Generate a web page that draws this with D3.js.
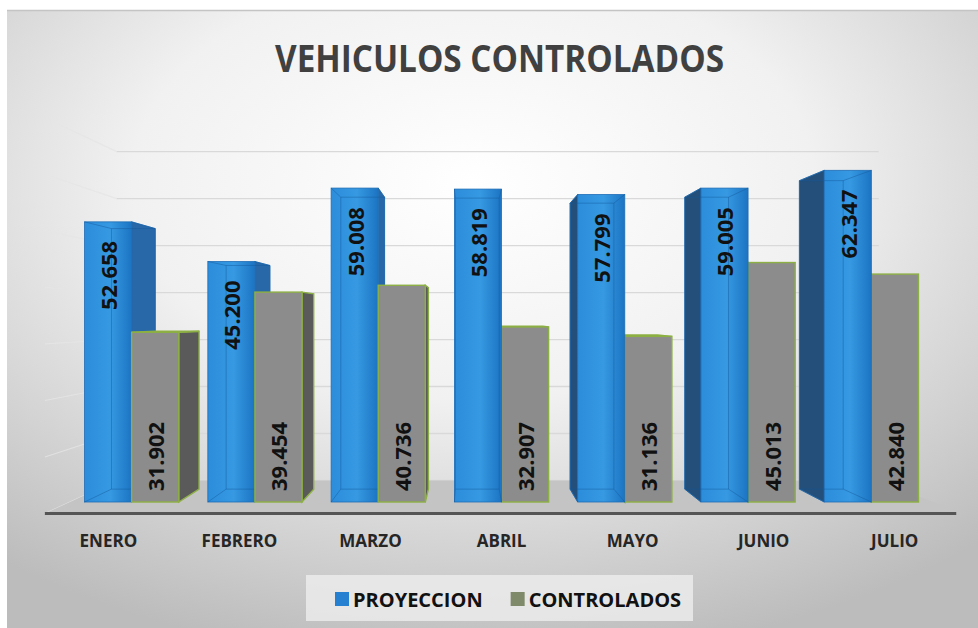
<!DOCTYPE html>
<html>
<head>
<meta charset="utf-8">
<script src="https://cdn.jsdelivr.net/npm/d3@7"></script>
<style>
  html, body { margin: 0; padding: 0; background: #fff; }
  svg { display: block; font-family: "Open Sans", "Noto Sans", sans-serif; }
</style>
</head>
<body>
<svg id="chart" width="978" height="628"></svg>
<script>
// data
const categories = ["ENERO", "FEBRERO", "MARZO", "ABRIL", "MAYO", "JUNIO", "JULIO"];
const seriesNames = ["PROYECCION", "CONTROLADOS"];
const proyeccion = [52658, 45200, 59008, 58819, 57799, 59005, 62347];
const controlados = [31902, 39454, 40736, 32907, 31136, 45013, 42840];
const yTicks = [0, 10000, 20000, 30000, 40000, 50000, 60000, 70000];
const chartTitle = "VEHICULOS CONTROLADOS";

const W = 978, H = 628;
// vanishing point and depth ratios (relative to the bar front plane)
const VX = 469, VY = 318;
const R_BAR_BACK = 0.93, R_WALL = 0.883, R_FLOOR_FRONT = 1.063;

function P(x, y, r) {
  return [VX + (x - VX) * r, VY + (y - VY) * r];
}

const locale = d3.formatLocale({ decimal: ",", thousands: ".", grouping: [3], currency: ["$", ""] });
const fmt = locale.format(",d");

const svg = d3.select("#chart");
const defs = svg.append("defs");

const bg = defs.append("radialGradient").attr("id", "bg")
  .attr("cx", "48%").attr("cy", "28%").attr("r", "78%");
bg.append("stop").attr("offset", "0%").attr("stop-color", "#ffffff");
bg.append("stop").attr("offset", "45%").attr("stop-color", "#f1f1f1");
bg.append("stop").attr("offset", "100%").attr("stop-color", "#bcbcbc");

const blueFront = defs.append("linearGradient").attr("id", "blueFront")
  .attr("x1", "0%").attr("x2", "100%").attr("y1", "0%").attr("y2", "0%");
blueFront.append("stop").attr("offset", "0%").attr("stop-color", "#2c8ddb");
blueFront.append("stop").attr("offset", "55%").attr("stop-color", "#3699e2");
blueFront.append("stop").attr("offset", "100%").attr("stop-color", "#1c74c2");

// background
svg.append("rect").attr("x", 7).attr("y", 10).attr("width", W - 7).attr("height", H - 10)
  .attr("fill", "url(#bg)");
svg.append("line").attr("x1", 7).attr("x2", W).attr("y1", 10.5).attr("y2", 10.5)
  .attr("stroke", "#c4c4c4").attr("stroke-width", 1.5);

// scales in the bar front plane
const x0 = d3.scaleBand().domain(categories).range([70, 933])
  .paddingInner(0.236).paddingOuter(0.118);
const x1 = d3.scaleBand().domain(seriesNames).range([0, x0.bandwidth()]);
const y = d3.scaleLinear().domain([0, 70000]).range([502, 129.6]);

const left = x0.range()[0], right = x0.range()[1];

// left wall gridlines
svg.append("g").selectAll("line").data(yTicks).join("line")
  .each(function (t) {
    const a = P(left, y(t), R_WALL), b = P(left, y(t), R_FLOOR_FRONT);
    d3.select(this).attr("x1", a[0]).attr("y1", a[1]).attr("x2", b[0]).attr("y2", b[1]);
  })
  .attr("stroke", "#e6e6e6").attr("stroke-width", 1.2).attr("opacity", 0.8);

// back wall gridlines
svg.append("g").selectAll("line").data(yTicks).join("line")
  .each(function (t) {
    const a = P(left, y(t), R_WALL), b = P(right, y(t), R_WALL);
    d3.select(this).attr("x1", a[0]).attr("y1", a[1]).attr("x2", b[0]).attr("y2", b[1]);
  })
  .attr("stroke", "#d9d9d9").attr("stroke-width", 1.3);

// floor
const floorPts = [
  P(left, y(0), R_WALL), P(right, y(0), R_WALL),
  P(right, y(0), R_FLOOR_FRONT), P(left, y(0), R_FLOOR_FRONT)
];
svg.append("polygon").attr("points", floorPts.map(p => p.join(",")).join(" "))
  .attr("fill", "#c4c4c4");
svg.append("line")
  .attr("x1", floorPts[3][0]).attr("x2", floorPts[2][0] - 6)
  .attr("y1", floorPts[3][1]).attr("y2", floorPts[2][1])
  .attr("stroke", "#555").attr("stroke-width", 3);

// bars
const bars = [];
categories.forEach((c, i) => {
  [proyeccion[i], controlados[i]].forEach((v, s) => {
    const xl = x0(c) + x1(seriesNames[s]);
    const xr = xl + x1.bandwidth();
    bars.push({ cat: c, s, v, xl, xr, yt: y(v), yb: y(0) });
  });
});
bars.sort((a, b) => Math.abs((b.xl + b.xr) / 2 - VX) - Math.abs((a.xl + a.xr) / 2 - VX));

const style = [
  { front: "url(#blueFront)", rightFace: "#2868a8", leftFace: "#234f7a", top: "#4aa6ea", stroke: "#1e6db5", sw: 0.8 },
  { front: "#8c8c8c", rightFace: "#5a5a5a", leftFace: "#555555", top: "#a0a0a0", stroke: "#8db044", sw: 1.4 }
];

const pts = arr => arr.map(p => p.join(",")).join(" ");
const gBars = svg.append("g");

bars.forEach(b => {
  const st = style[b.s];
  const g = gBars.append("g");
  if (b.xr < VX) {
    g.append("polygon")
      .attr("points", pts([[b.xr, b.yt], P(b.xr, b.yt, R_BAR_BACK), P(b.xr, b.yb, R_BAR_BACK), [b.xr, b.yb]]))
      .attr("fill", st.rightFace).attr("stroke", st.stroke).attr("stroke-width", st.sw);
  }
  if (b.xl > VX) {
    g.append("polygon")
      .attr("points", pts([[b.xl, b.yt], P(b.xl, b.yt, R_BAR_BACK), P(b.xl, b.yb, R_BAR_BACK), [b.xl, b.yb]]))
      .attr("fill", st.leftFace).attr("stroke", st.stroke).attr("stroke-width", st.sw);
  }
  if (b.yt > VY) {
    g.append("polygon")
      .attr("points", pts([[b.xl, b.yt], [b.xr, b.yt], P(b.xr, b.yt, R_BAR_BACK), P(b.xl, b.yt, R_BAR_BACK)]))
      .attr("fill", st.top).attr("stroke", st.stroke).attr("stroke-width", st.sw);
  }
  g.append("rect")
    .attr("x", b.xl).attr("y", b.yt).attr("width", b.xr - b.xl).attr("height", b.yb - b.yt)
    .attr("fill", st.front).attr("stroke", st.stroke).attr("stroke-width", st.sw);
  if (b.s === 0) {
    // hidden edges seen through the glassy blue bars
    const bl = P(b.xl, b.yb, R_BAR_BACK), br = P(b.xr, b.yb, R_BAR_BACK);
    const tl = P(b.xl, b.yt, R_BAR_BACK), tr = P(b.xr, b.yt, R_BAR_BACK);
    const edges = [[tl, bl], [tr, br], [bl, br], [tl, tr],
      [[b.xl, b.yb], bl], [[b.xr, b.yb], br], [[b.xl, b.yt], tl], [[b.xr, b.yt], tr]];
    g.selectAll("line.edge").data(edges).join("line").attr("class", "edge")
      .attr("x1", e => e[0][0]).attr("y1", e => e[0][1])
      .attr("x2", e => e[1][0]).attr("y2", e => e[1][1])
      .attr("stroke", "#14599c").attr("stroke-opacity", 0.45).attr("stroke-width", 1);
  }
});

// data labels
gBars.append("g").selectAll("text").data(bars).join("text")
  .attr("transform", b => {
    const cx = (b.xl + b.xr) / 2 + 1;
    const ty = b.s === 0 ? b.yt + 19 : b.yb - 11;
    return `translate(${cx},${ty}) rotate(-90)`;
  })
  .attr("text-anchor", b => b.s === 0 ? "end" : "start")
  .attr("dy", "0.36em")
  .attr("font-size", 22).attr("font-weight", 700).attr("fill", "#111")
  .text(b => fmt(b.v));

// category labels on the floor front edge
svg.append("g").selectAll("text").data(categories).join("text")
  .attr("x", c => P(x0(c) + x0.bandwidth() / 2, 0, R_FLOOR_FRONT)[0] - 2)
  .attr("y", 547)
  .attr("text-anchor", "middle")
  .attr("font-size", 17).attr("font-weight", 700).attr("fill", "#262626")
  .text(c => c);

// title
svg.append("text")
  .attr("x", 499.5).attr("y", 72)
  .attr("text-anchor", "middle")
  .attr("font-size", 37).attr("font-weight", 700).attr("fill", "#404040")
  .attr("textLength", 449).attr("lengthAdjust", "spacingAndGlyphs")
  .text(chartTitle);

// legend
const legendColors = ["#2580d2", "#7f8a6a"];
const lg = svg.append("g");
lg.append("rect").attr("x", 306).attr("y", 575).attr("width", 387).attr("height", 46)
  .attr("fill", "#eeeeee").attr("opacity", 0.8);
let lx = 335;
seriesNames.forEach((name, i) => {
  lg.append("rect").attr("x", lx).attr("y", 592).attr("width", 14).attr("height", 14)
    .attr("fill", legendColors[i]);
  const t = lg.append("text").attr("x", lx + 18).attr("y", 606.5)
    .attr("font-size", 20).attr("font-weight", 700).attr("fill", "#111")
    .text(name);
  lx += 18 + t.node().getComputedTextLength() + 28;
});
</script>
</body>
</html>
